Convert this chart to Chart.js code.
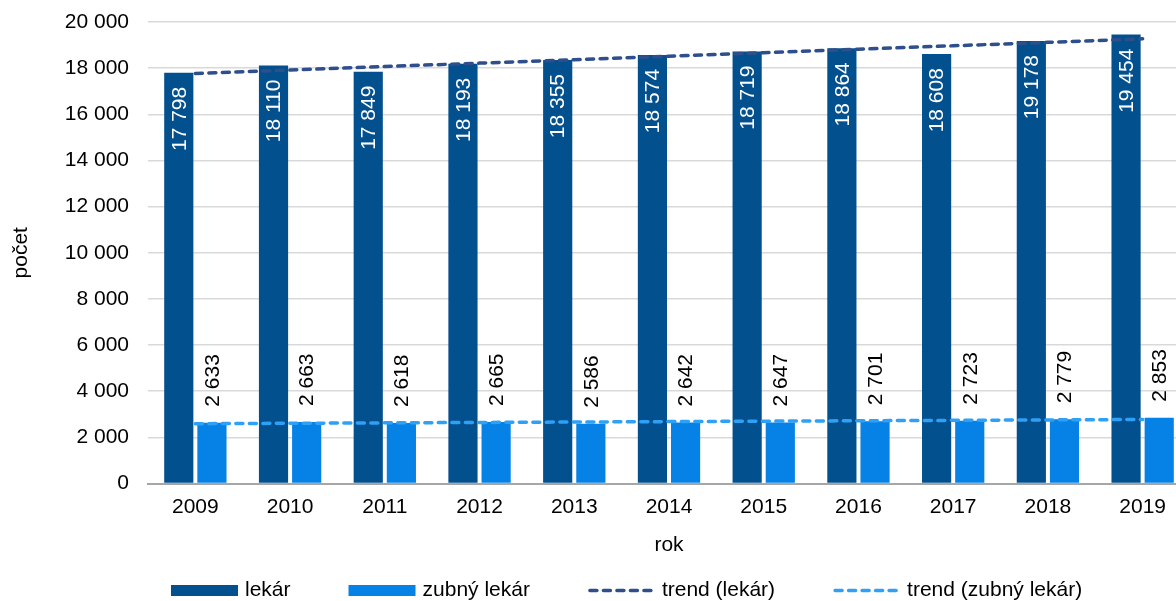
<!DOCTYPE html>
<html lang="sk">
<head>
<meta charset="utf-8">
<title>Počet lekárov a zubných lekárov</title>
<script src="https://cdn.jsdelivr.net/npm/chart.js@4.4.1/dist/chart.umd.min.js"></script>
<style>
  html, body { margin: 0; padding: 0; background: #fff; overflow: hidden; }
  #wrap { position: relative; width: 1190px; height: 601px; }
</style>
</head>
<body>
<div id="wrap"><canvas id="chart"></canvas></div>
<script>
// Data
const years = ["2009", "2010", "2011", "2012", "2013", "2014", "2015", "2016", "2017", "2018", "2019"];
const doctors = [17798, 18110, 17849, 18193, 18355, 18574, 18719, 18864, 18608, 19178, 19454];
const dentists = [2633, 2663, 2618, 2665, 2586, 2642, 2647, 2701, 2723, 2779, 2853];
const doctorsTrend = [17767, 17917, 18068, 18218, 18368, 18518, 18669, 18819, 18969, 19120, 19270];
const dentistsTrend = [2591, 2610, 2628, 2646, 2664, 2683, 2701, 2719, 2737, 2756, 2774];
const seriesNames = ["lekár", "zubný lekár", "trend (lekár)", "trend (zubný lekár)"];
const yMax = 20000;
const yStep = 2000;

const FONT = "'Liberation Sans', Arial, sans-serif";
const FSIZE = 21;

// "18110" -> "18 110"
function fmt(v) {
  return String(v).replace(/\B(?=(\d{3})+(?!\d))/g, " ");
}

// Rotated value labels on the bars
const barLabels = {
  id: "barLabels",
  afterDatasetsDraw(chart) {
    const ctx = chart.ctx;
    chart.data.datasets.forEach((ds, i) => {
      if (ds.type !== "bar") return;
      const meta = chart.getDatasetMeta(i);
      if (meta.hidden) return;
      meta.data.forEach((bar, j) => {
        ctx.save();
        ctx.font = FSIZE + "px " + FONT;
        ctx.textBaseline = "middle";
        if (ds.labelInside) {
          ctx.translate(bar.x + 1, bar.y + 14);
          ctx.rotate(-Math.PI / 2);
          ctx.textAlign = "right";
          ctx.fillStyle = "#ffffff";
        } else {
          ctx.translate(bar.x + 1, bar.y - 16);
          ctx.rotate(-Math.PI / 2);
          ctx.textAlign = "left";
          ctx.fillStyle = "#000000";
        }
        ctx.fillText(fmt(ds.data[j]), 0, 0);
        ctx.restore();
      });
    });
  }
};

// Legend row at the bottom (Excel style: long boxes, dashed trend lines)
const bottomLegend = {
  id: "bottomLegend",
  afterDraw(chart, args, opts) {
    const ctx = chart.ctx;
    ctx.save();
    ctx.font = FSIZE + "px " + FONT;
    ctx.textBaseline = "middle";
    let x = opts.left;
    const y = opts.y;
    chart.data.datasets.forEach(ds => {
      if (ds.type === "line") {
        ctx.strokeStyle = ds.borderColor;
        ctx.lineWidth = ds.borderWidth;
        ctx.lineCap = "round";
        ctx.setLineDash(ds.borderDash);
        ctx.beginPath();
        ctx.moveTo(x + 2, y);
        ctx.lineTo(x + opts.boxWidth - 2, y);
        ctx.stroke();
        ctx.setLineDash([]);
      } else {
        ctx.fillStyle = ds.backgroundColor;
        ctx.fillRect(x, y - opts.boxHeight / 2, opts.boxWidth, opts.boxHeight);
      }
      x += opts.boxWidth + opts.textGap;
      ctx.fillStyle = "#000000";
      ctx.textAlign = "left";
      ctx.fillText(ds.label, x, y);
      x += ctx.measureText(ds.label).width + opts.itemGap;
    });
    ctx.restore();
  }
};

const ctx = document.getElementById("chart").getContext("2d");
new Chart(ctx, {
  data: {
    labels: years,
    datasets: [
      {
        type: "bar",
        label: seriesNames[0],
        data: doctors,
        backgroundColor: "#03508f",
        categoryPercentage: 0.7,
        barPercentage: 0.88,
        labelInside: true,
        order: 2
      },
      {
        type: "bar",
        label: seriesNames[1],
        data: dentists,
        backgroundColor: "#0682e6",
        categoryPercentage: 0.7,
        barPercentage: 0.88,
        labelInside: false,
        order: 2
      },
      {
        type: "line",
        label: seriesNames[2],
        data: doctorsTrend,
        borderColor: "#2f4f8c",
        borderWidth: 3.5,
        borderDash: [7, 6.5],
        borderCapStyle: "round",
        pointRadius: 0,
        fill: false,
        tension: 0,
        order: 1
      },
      {
        type: "line",
        label: seriesNames[3],
        data: dentistsTrend,
        borderColor: "#2ea0f5",
        borderWidth: 3.5,
        borderDash: [7, 6.5],
        borderCapStyle: "round",
        pointRadius: 0,
        fill: false,
        tension: 0,
        order: 1
      }
    ]
  },
  options: {
    responsive: true,
    maintainAspectRatio: false,
    animation: false,
    layout: { padding: { top: 22, left: 6, right: 0, bottom: 41 } },
    plugins: {
      legend: { display: false },
      tooltip: { enabled: false },
      bottomLegend: { left: 171, y: 590.5, boxWidth: 67, boxHeight: 11, textGap: 7, itemGap: 58 }
    },
    scales: {
      x: {
        grid: { display: false, drawTicks: false },
        border: { display: true, color: "#a6a6a6", width: 2 },
        ticks: { color: "#000", font: { family: FONT, size: FSIZE }, padding: 11, maxRotation: 0 },
        title: { display: true, text: "rok", color: "#000", font: { family: FONT, size: FSIZE }, padding: { top: 2, bottom: 2 } },
        afterFit(scale) { scale.height = 76.5; }
      },
      y: {
        min: 0,
        max: yMax,
        grid: {
          color: c => (c.tick && c.tick.value === 0 ? "#a6a6a6" : "#d9d9d9"),
          lineWidth: 1.5,
          drawTicks: false
        },
        border: { display: false },
        ticks: {
          stepSize: yStep,
          color: "#000",
          font: { family: FONT, size: FSIZE },
          padding: 19,
          callback: v => fmt(v)
        },
        title: { display: true, text: "počet", color: "#000", font: { family: FONT, size: FSIZE }, padding: { top: 3, bottom: 3 } },
        afterFit(scale) {
          scale.width = 142;
          scale.paddingTop = 0;
          scale.paddingBottom = 0;
        }
      }
    }
  },
  plugins: [barLabels, bottomLegend]
});
</script>
</body>
</html>
